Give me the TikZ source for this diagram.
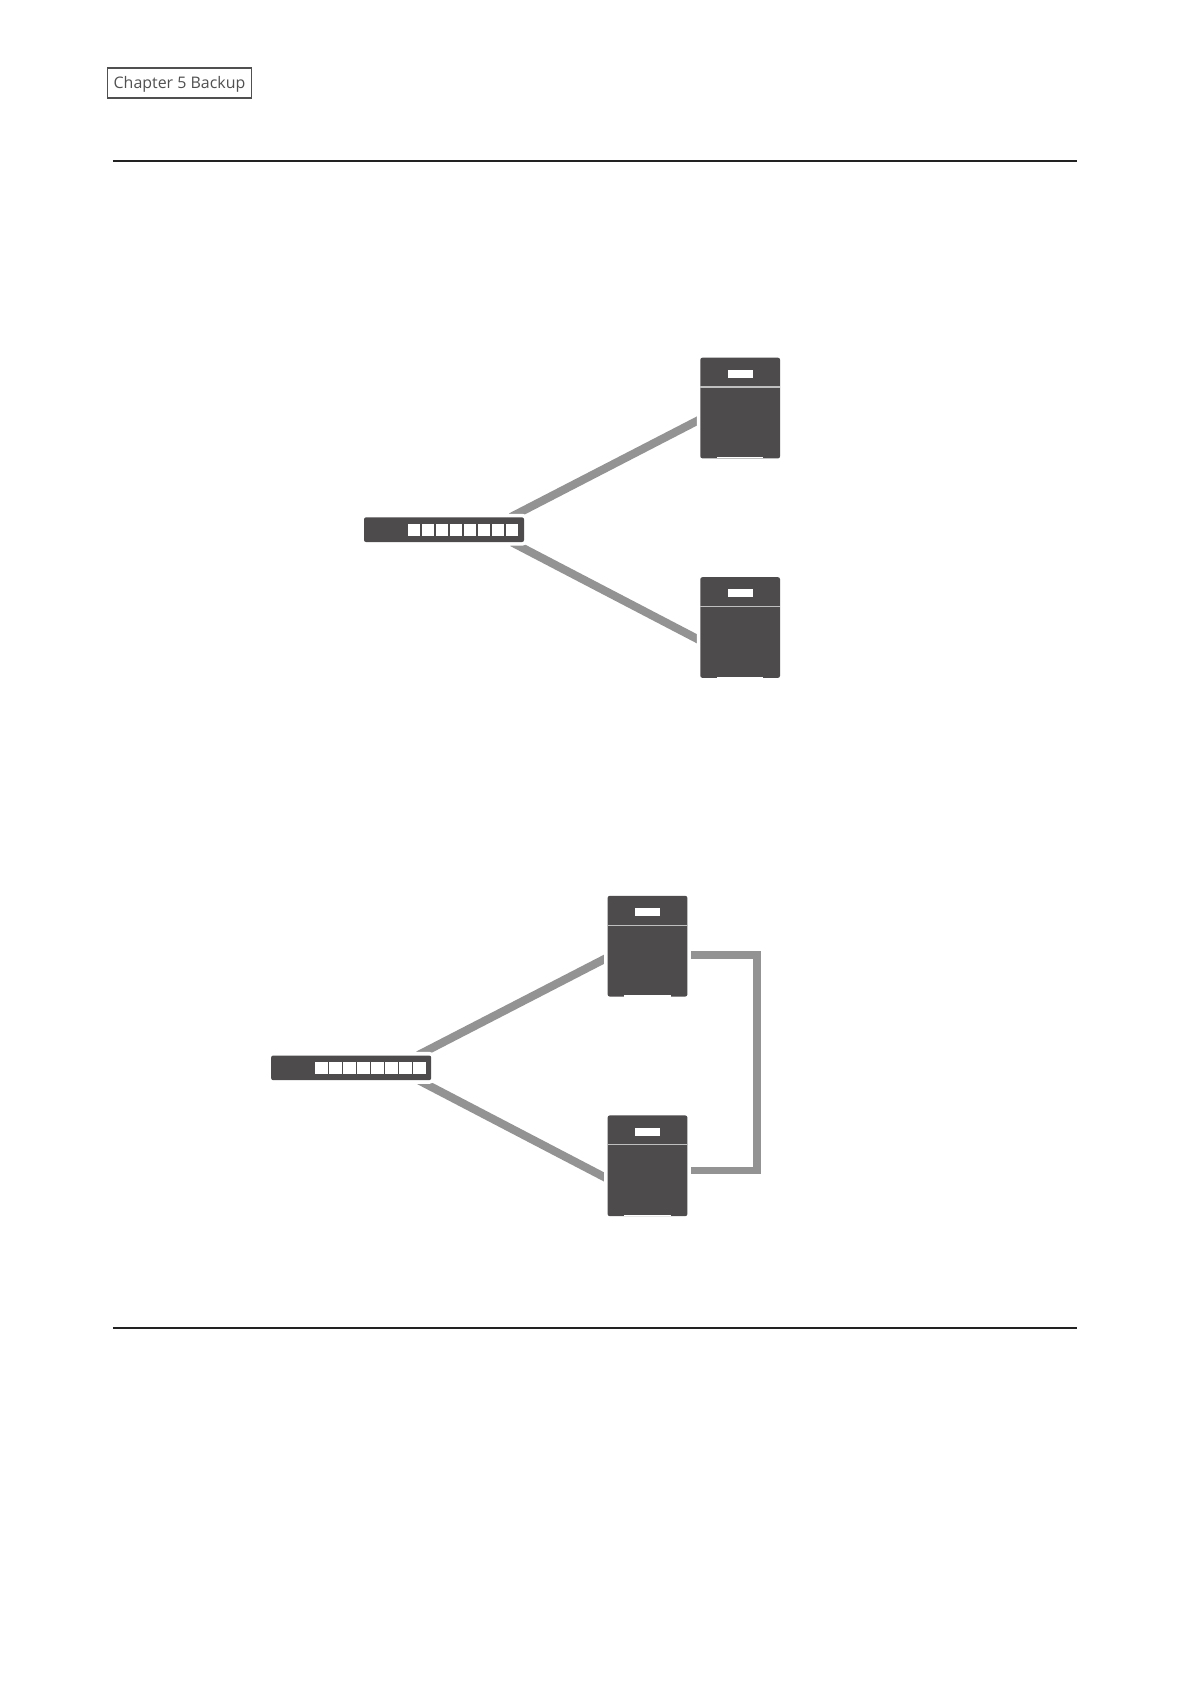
\documentclass[tikz,border=0pt]{standalone}
\usepackage{fontspec}
\setmainfont{Open Sans}
\usetikzlibrary{arrows.meta,positioning,calc,backgrounds}
\definecolor{boxgray}{HTML}{4D4B4C}
\definecolor{cablegray}{HTML}{939393}
\definecolor{labelgray}{HTML}{505050}
\definecolor{rulegray}{HTML}{222222}
\tikzset{
  halo/.style={fill=boxgray,rounded corners=1pt,inner sep=0pt,preaction={draw=white,line width=3.6pt}},
  switchbox/.style={halo,minimum width=2.821cm,minimum height=0.435cm},
  nasbox/.style={halo,minimum width=1.405cm,minimum height=1.774cm},
  cable/.style={draw=cablegray,line width=4.1pt},
  link/.style={draw=cablegray,line width=3.8pt,line join=miter},
}

\begin{document}
\begin{tikzpicture}[x=1cm,y=1cm]
  \useasboundingbox (0,0) rectangle (21.0,29.693);
  \node[draw=labelgray,line width=0.8pt,minimum width=2.546cm,minimum height=0.529cm,inner sep=0pt,
        text=labelgray,font=\fontsize{8}{10}\selectfont] (chapter) at (3.165,28.234) {\raisebox{-2.8pt}[0pt][0pt]{Chapter 5 Backup}};
  \draw[line width=1pt,rulegray] (1.992,26.859) -- (18.99,26.859);
  \draw[line width=1pt,rulegray] (1.992,6.277) -- (18.99,6.277);

  \foreach \name/\xc/\yc in {swA/7.829/20.353,swB/6.192/10.864}{
    \node[switchbox] (\name) at (\xc,\yc) {};
    \foreach \i in {0,...,7}
      \fill[white] ({\xc-0.525+0.247*\i-0.108},\yc-0.108) rectangle ++(0.217,0.217);
  }
  \foreach \name/\xc/\yc in {nasA/13.051/22.498,nasB/13.051/18.628,nasC/11.417/13.009,nasD/11.417/9.137}{
    \node[nasbox] (\name) at (\xc,\yc) {};
    \fill[white] (\xc-0.223,\yc+0.53) rectangle ++(0.446,0.141);
    \draw[black!25,line width=0.6pt] (\xc-0.702,\yc+0.37) -- ++(1.405,0);
    \fill[white] (\xc-0.408,\yc-0.887) rectangle ++(0.816,0.023); % gap between the feet
  }

  \begin{scope}[on background layer]
    \foreach \sw/\up/\down in {swA/nasA/nasB,swB/nasC/nasD}{
      \draw[cable] ($(\sw.north east)+(-0.236,0)$) -- ($(\up.west)+(0,-0.201)$);
      \draw[cable] ($(\sw.south east)+(-0.217,0)$) -- ($(\down.west)+(0,-0.226)$);
    }
    \coordinate (linkA) at ($(nasC.east)+(0,-0.16)$);
    \coordinate (linkB) at ($(nasD.east)+(0,-0.08)$);
    \coordinate (bend) at (13.347,11);
    \draw[link] (linkA) -- (linkA -| bend) -- (linkB -| bend) -- (linkB);
  \end{scope}
\end{tikzpicture}
\end{document}
